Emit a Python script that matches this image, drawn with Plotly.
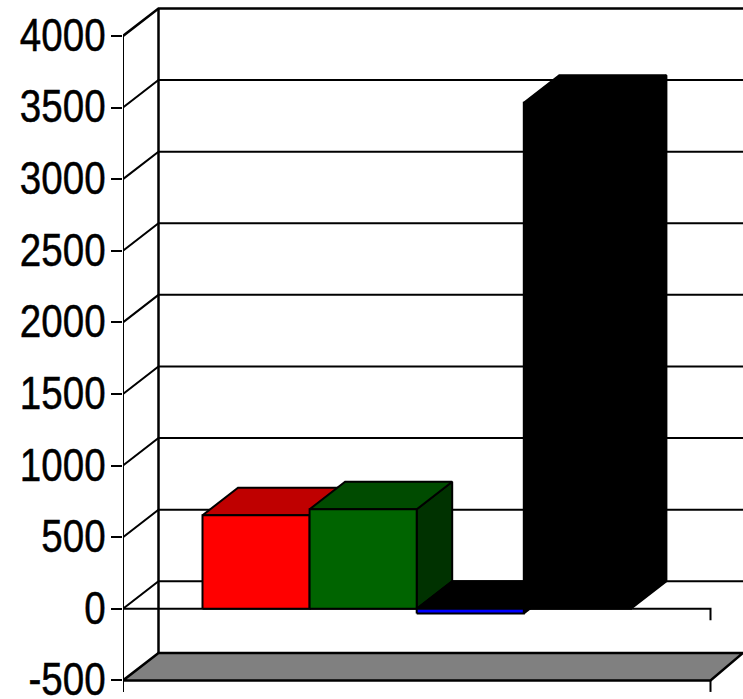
import plotly.graph_objects as go

categories = ["Series 1", "Series 2", "Series 3", "Series 4"]
values = [653, 695, -32, 3533]
front_colors = ["#FF0000", "#006400", "#0000FF", "#000000"]
top_colors = ["#BF0000", "#004B00", "#000000", "#000000"]
side_colors = ["#800000", "#003200", "#000000", "#000000"]
tick_vals = [-500, 0, 500, 1000, 1500, 2000, 2500, 3000, 3500, 4000]
tick_text = ["-500", "0", "500", "1000", "1500", "2000", "2500", "3000", "3500", "4000"]

W, H = 743, 699
PX_PER_VAL = (680.5 - 36) / 4500.0
PX_PER_BAR = 107.1
ZERO_PY = 608.8
FIRST_BAR_PX = 202.5
AXIS_PX = 123.0
XEND = (710.5 - FIRST_BAR_PX) / PX_PER_BAR
X0 = (AXIS_PX - FIRST_BAR_PX) / PX_PER_BAR
DX = 35.5 / PX_PER_BAR
DY = 27.5 / PX_PER_VAL
STUB = 11.5 / PX_PER_VAL
x_range = [X0, (W - FIRST_BAR_PX) / PX_PER_BAR]
y_range = [(ZERO_PY - H) / PX_PER_VAL, ZERO_PY / PX_PER_VAL]

fig = go.Figure()


def line(xs, ys, width=2, color="#000000"):
    fig.add_trace(go.Scatter(x=xs, y=ys, mode="lines", cliponaxis=False, showlegend=False,
                             hoverinfo="skip", line=dict(color=color, width=width)))


def poly(xs, ys, fill, width=2):
    fig.add_trace(go.Scatter(x=xs, y=ys, mode="lines", fill="toself", fillcolor=fill,
                             cliponaxis=False, showlegend=False, hoverinfo="skip",
                             line=dict(color="#000000", width=width)))


low, high = tick_vals[0], tick_vals[-1]

# back wall and side wall gridlines
for v in tick_vals[1:]:
    line([X0, X0 + DX, x_range[1]], [v, v + DY, v + DY], width=2.5 if v == high else 2)
line([X0 + DX, X0 + DX], [low + DY, high + DY], width=2.5)

# floor
poly([X0, X0 + DX, x_range[1], XEND, X0], [low, low + DY, low + DY, low, low], "#808080", width=2.5)

# front axis
line([X0, X0], [low - STUB, high], width=2)
line([X0, XEND, XEND], [0, 0, -STUB], width=2)
line([XEND, XEND], [low, low - STUB], width=2)

# bars
for i, (v, fc, tc, sc) in enumerate(zip(values, front_colors, top_colors, side_colors)):
    l, r = i, i + 1
    hi = max(v, 0)
    lo = min(v, 0)
    poly([r, r + DX, r + DX, r, r], [lo, lo + DY, hi + DY, hi, lo], sc)
    poly([l, l + DX, r + DX, r, l], [hi, hi + DY, hi + DY, hi, hi], tc)
    poly([l, r, r, l, l], [lo, lo, hi, hi, lo], fc)

fig.update_layout(
    width=W, height=H,
    margin=dict(l=int(AXIS_PX), r=0, t=0, b=0, pad=0),
    paper_bgcolor="#FFFFFF", plot_bgcolor="#FFFFFF",
    showlegend=False,
    font=dict(family="Liberation Sans, sans-serif", color="#000000", size=47),
    xaxis=dict(range=x_range, visible=False, fixedrange=True),
    yaxis=dict(range=y_range, tickmode="array", tickvals=tick_vals, ticktext=tick_text,
               showgrid=False, zeroline=False, showline=False, ticks="outside", ticklen=11,
               tickwidth=2, tickcolor="#000000", ticklabelstandoff=0, ticklabeloverflow="allow",
               fixedrange=True, automargin=False, tickfont=dict(size=47)),
)
post = """
document.documentElement.style.margin='0';
document.body.style.margin='0';
document.querySelectorAll('.ytick text').forEach(function(t){
  var w=t.getComputedTextLength();
  t.setAttribute('lengthAdjust','spacingAndGlyphs');
  t.setAttribute('textLength', (w*0.82).toFixed(2));
  t.setAttribute('dx','4');
  t.setAttribute('dy','-1.5');
  t.style.stroke='#000';
  t.style.strokeWidth='0.5px';
});
"""
fig.write_html("out.html", config={"displayModeBar": False}, post_script=post)
